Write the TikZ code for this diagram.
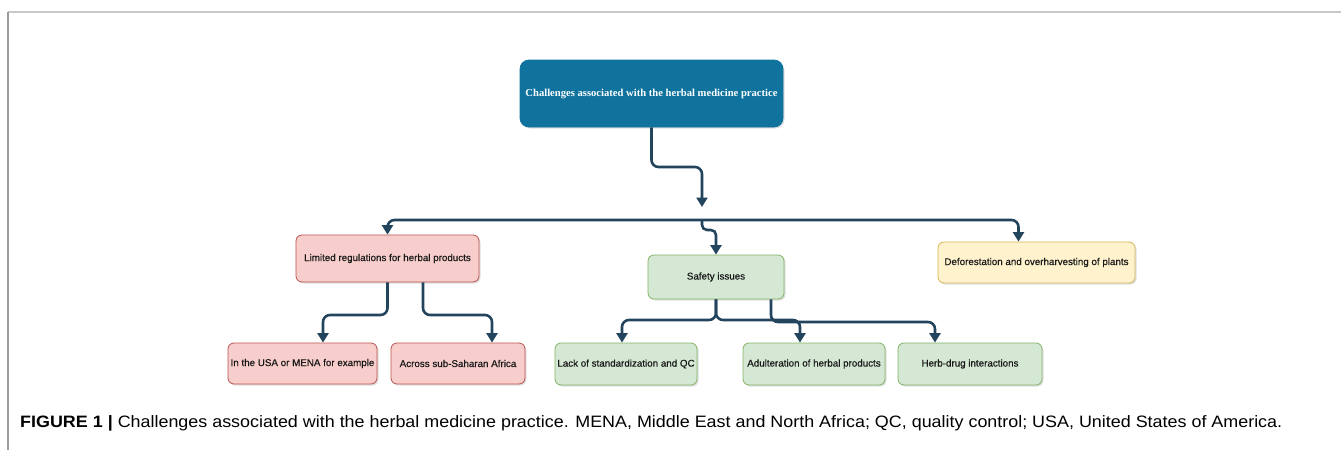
\documentclass[tikz,border=0pt]{standalone}
\usepackage{fontspec}
\setmainfont{Liberation Sans}
\newfontfamily\timesfont{Liberation Serif}
\newfontface\boxfont{Liberation Sans}[FakeBold=0.5]
\usetikzlibrary{arrows.meta,shadows,calc}
\definecolor{edgecol}{HTML}{23445D}
\definecolor{topfill}{HTML}{10739E}
\definecolor{pinkfill}{HTML}{F8CECC}
\definecolor{pinkline}{HTML}{B85450}
\definecolor{greenfill}{HTML}{D5E8D4}
\definecolor{greenline}{HTML}{82B366}
\definecolor{yellowfill}{HTML}{FFF2CC}
\definecolor{yellowline}{HTML}{D6B656}
\definecolor{frametop}{HTML}{C8C8C8}
\definecolor{frameleft}{HTML}{9A9A9A}
\tikzset{
  box/.style={draw, rounded corners=6pt, line width=0.8pt, inner sep=0pt, align=center,
    font=\boxfont\fontsize{9.8}{12}\selectfont, text=black!90,
    drop shadow={shadow xshift=1.5pt, shadow yshift=-1.5pt, opacity=0.25}},
  pinkbox/.style={box, fill=pinkfill, draw=pinkline},
  greenbox/.style={box, fill=greenfill, draw=greenline},
  yellowbox/.style={box, fill=yellowfill, draw=yellowline},
  topbox/.style={box, fill=topfill, draw=topfill, rounded corners=9pt, text=white,
    font=\timesfont\bfseries\fontsize{10.6}{12}\selectfont},
  conn/.style={draw=edgecol, line width=2.6pt, rounded corners=7pt, line join=round,
    -{Triangle[width=11pt,length=9.5pt]}},
  framerule/.style={line width=1.2pt},
}
\begin{document}
\begin{tikzpicture}[x=1pt,y=-1pt]
\useasboundingbox (0,0) rectangle (1341,450);
% frame
\draw[framerule, draw=frametop] (8,12) -- (1341,12);
\draw[framerule, draw=frameleft] (8,12) -- (8,450);

% nodes
\node[topbox, minimum width=263pt, minimum height=67pt] (top) at (651.5,93.5)
  {Challenges associated with the herbal medicine practice};
\node[pinkbox, minimum width=183pt, minimum height=47pt] (reg) at (387.5,258.5)
  {Limited regulations for herbal products};
\node[greenbox, minimum width=136pt, minimum height=44pt] (saf) at (716,277)
  {Safety issues};
\node[yellowbox, minimum width=197pt, minimum height=41pt] (def) at (1036.5,262.5)
  {Deforestation and overharvesting of plants};
\node[pinkbox, minimum width=149pt, minimum height=41pt] (usa) at (302.5,363.5)
  {In the USA or MENA for example};
\node[pinkbox, minimum width=134pt, minimum height=41pt] (ssa) at (458,363.5)
  {Across sub-Saharan Africa};
\node[greenbox, minimum width=142pt, minimum height=42pt] (lack) at (626,364)
  {Lack of standardization and QC};
\node[greenbox, minimum width=142pt, minimum height=42pt] (adu) at (814,364)
  {Adulteration of herbal products};
\node[greenbox, minimum width=144pt, minimum height=42pt] (herb) at (970,364)
  {Herb-drug interactions};

\coordinate (J) at (702,220);
\coordinate (Jtop) at (702,207);

% connectors
\draw[conn] (top.south) |- (702,167) -- (Jtop);
\draw[conn] (J) -| (reg.north);
\draw[conn] (J) -| ([xshift=-18pt]def.north);
\draw[conn, rounded corners=5pt] (J) |- (716,230) -- (saf.north);

\draw[conn] (reg.south) |- (323,315) -- ([xshift=20.5pt]usa.north);
\draw[conn] ([xshift=35.5pt]reg.south) |- (492,315) -- ([xshift=34pt]ssa.north);

\draw[conn] (saf.south) |- (622,320) -- ([xshift=-4pt]lack.north);
\draw[conn] (saf.south) |- (800,320) -- ([xshift=-14pt]adu.north);
\draw[conn] ([xshift=55pt]saf.south) |- (935,322) -- ([xshift=-35pt]herb.north);

% caption
\node[anchor=base west, inner sep=0pt, font=\fontsize{16.5}{19}\selectfont] (cap) at (20,427)
  {\resizebox{1262pt}{\height}{\textbf{FIGURE 1 |} Challenges associated with the herbal medicine practice. MENA, Middle East and North Africa; QC, quality control; USA, United States of America.}};
\end{tikzpicture}
\end{document}
